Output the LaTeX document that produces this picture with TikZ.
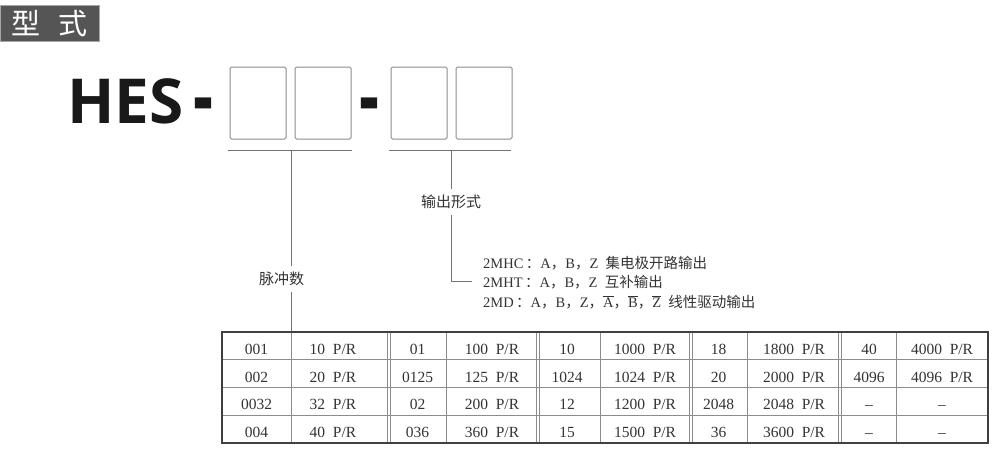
\documentclass[tikz,border=0pt]{standalone}
\usepackage{fontspec}
\setmainfont{Liberation Serif}
\newfontfamily\cjk{Noto Sans CJK SC}
\newfontfamily\hesfont{Open Sans}
\newcommand\PR{\hspace{0.5em}P/R}
\newcommand\ol[1]{$\overline{\mbox{#1}}$}
\definecolor{titlegray}{HTML}{555555}
\definecolor{txt}{HTML}{333333}
\begin{document}
\begin{tikzpicture}[x=1pt,y=-1pt,
  titlebox/.style={draw=black!35, line width=1pt, fill=titlegray, text=white,
    minimum width=99pt, minimum height=36pt, inner sep=0pt,
    font=\cjk\fontsize{29}{29}\selectfont},
  hesstyle/.style={inner sep=0pt, text=black!90, font=\hesfont\bfseries\fontsize{62}{62}\selectfont},
  digitbox/.style={draw=black!45, line width=1pt, rounded corners=1.5pt,
    minimum width=56pt, minimum height=72pt, inner sep=0pt},
  ln/.style={draw=black!55, line width=1pt},
  lbl/.style={font=\cjk\fontsize{15}{15}\selectfont, text=txt, inner xsep=0pt, inner ysep=6pt},
  opt/.style={font=\fontsize{14.5}{15}\selectfont, text=txt, inner xsep=11pt, inner ysep=0pt, anchor=base west},
  cell/.style={font=\fontsize{15.5}{16}\selectfont, text=txt, inner sep=0pt, anchor=base},
  grid/.style={draw=black!45, line width=0.8pt},
  frame/.style={draw=black!75, line width=1.5pt, minimum width=766pt, minimum height=111pt, inner sep=0pt}
]
\useasboundingbox (0,0) rectangle (1000,448);

% title
\node[titlebox] (title) at (49.5,23.5) {型\hspace{18pt}式};

% model code
\node[hesstyle, anchor=base west] (hes) at (67,123) {HES};
\node[hesstyle, anchor=base] (d1) at (203.5,127) {\scalebox{1}[1.45]{-}};
\node[hesstyle, anchor=base] (d2) at (369,127) {\scalebox{1}[1.45]{-}};
\node[digitbox] (b1) at (258,103) {};
\node[digitbox] (b2) at (323,103) {};
\node[digitbox] (b3) at (419,103) {};
\node[digitbox] (b4) at (484,103) {};

% brackets
\coordinate (u1l) at (228,150);
\coordinate (u1r) at (352,150);
\coordinate (u1m) at (291,150);
\coordinate (u2l) at (389,150);
\coordinate (u2r) at (511,150);
\coordinate (u2m) at (451,150);
\draw[ln] (u1l) -- (u1r);
\draw[ln] (u2l) -- (u2r);

% table frame
\node[frame] (tab) at (605,387.5) {};

% labels
\node[lbl] (pulse) at (281.5,279) {脉冲数};
\node[lbl] (outp) at (451,202) {输出形式};
\draw[ln] (u1m) -- (u1m |- pulse.north);
\draw[ln] (u1m |- pulse.south) -- (u1m |- tab.north);
\draw[ln] (u2m) -- (outp.north);

% output options
\node[opt] (o1) at (472,268) {2MHC\,{\cjk ：}A{\cjk ，}B{\cjk ，}Z\enspace{\cjk 集电极开路输出}};
\node[opt] (o2) at (472,287) {2MHT\,{\cjk ：}A{\cjk ，}B{\cjk ，}Z\enspace{\cjk 互补输出}};
\node[opt] (o3) at (472,307) {2MD\,{\cjk ：}A{\cjk ，}B{\cjk ，}Z{\cjk ，}\ol{A}{\cjk ，}\ol{B}{\cjk ，}\ol{Z}\enspace{\cjk 线性驱动输出}};
\draw[ln] (outp.south) |- (o2.west);

% table grid
\foreach \x in {291,446,600,747,896}
  \draw[grid] (\x,332) -- (\x,443);
\foreach \x in {389,538,691,840} {
  \draw[grid] (\x-1.6,332) -- (\x-1.6,443);
  \draw[grid] (\x+1.6,332) -- (\x+1.6,443);
}
\foreach \y in {359.5,387,415}
  \draw[grid] (222,\y) -- (988,\y);
\node[frame] at (tab.center) {};

% table text
\foreach \x/\a/\b/\c/\d [count=\k] in {
  256.5/001/002/0032/004,
  333/10\PR/20\PR/32\PR/40\PR,
  417.5/01/0125/02/036,
  492/100\PR/125\PR/200\PR/360\PR,
  567/10/1024/12/15,
  645/1000\PR/1024\PR/1200\PR/1500\PR,
  718.5/18/20/2048/36,
  794/1800\PR/2000\PR/2048\PR/3600\PR,
  869/40/4096/–/–,
  942/4000\PR/4096\PR/–/–} {
  \node[cell] (r1c\k) at (\x,354) {\a};
  \node[cell] (r2c\k) at (\x,382) {\b};
  \node[cell] (r3c\k) at (\x,409.5) {\c};
  \node[cell] (r4c\k) at (\x,437) {\d};
}
\end{tikzpicture}
\end{document}
